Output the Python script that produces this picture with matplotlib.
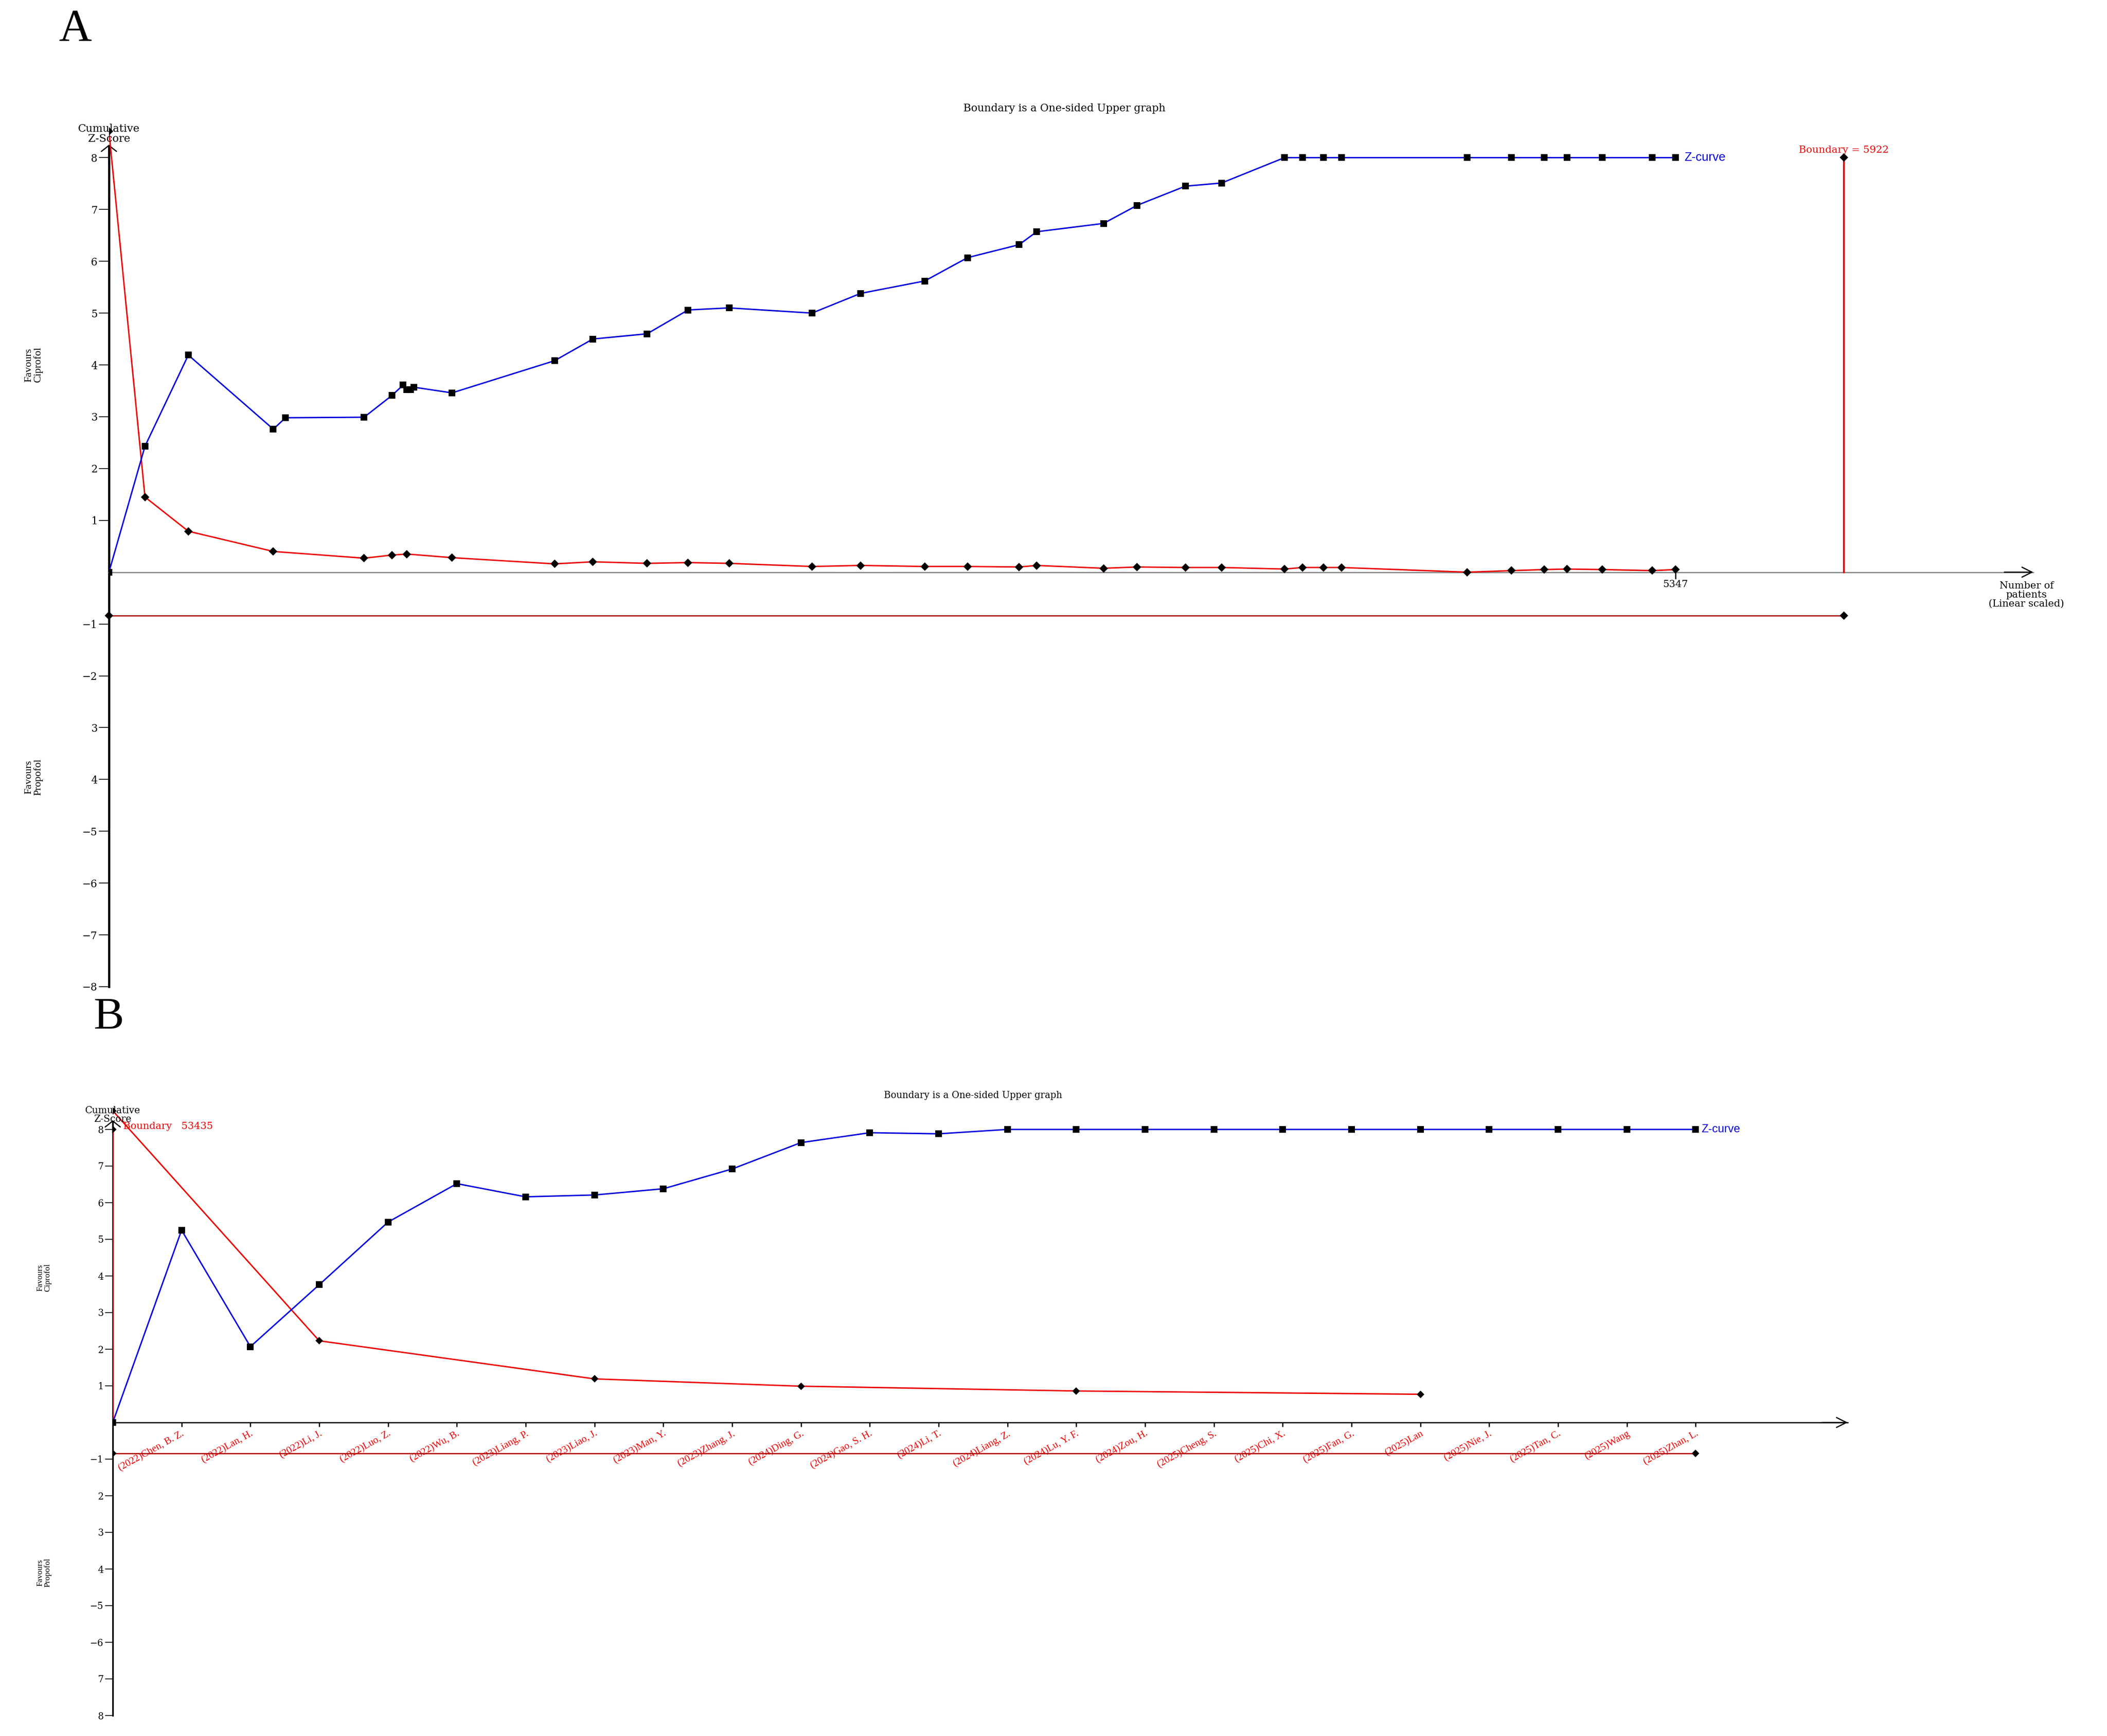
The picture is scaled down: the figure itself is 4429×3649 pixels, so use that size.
import matplotlib.pyplot as plt

W, H, DPI = 4429, 3649, 300

# ---------------- panel A: cumulative number of patients ----------------
a_z_n = [0, 123, 271, 561, 603, 871, 966, 1004, 1017, 1030, 1041, 1171,
         1521, 1652, 1837, 1977, 2117, 2400, 2566, 2785, 2931, 3107, 3167,
         3395, 3510, 3675, 3798, 4013, 4075, 4146, 4207, 4637, 4788, 4899,
         4978, 5098, 5268, 5347]
a_z = [0, 2.43, 4.19, 2.76, 2.98, 2.99, 3.41, 3.61, 3.52, 3.52, 3.57, 3.46,
       4.08, 4.50, 4.60, 5.06, 5.10, 5.00, 5.38, 5.62, 6.07, 6.32, 6.57,
       6.73, 7.08, 7.45, 7.51, 8, 8, 8, 8, 8, 8, 8,
       8, 8, 8, 8]
a_bound_n = [0, 123, 271, 561, 871, 966, 1017, 1171,
             1521, 1652, 1837, 1977, 2117, 2400, 2566, 2785, 2931, 3107, 3167,
             3395, 3510, 3675, 3798, 4013, 4075, 4146, 4207, 4637, 4788, 4899,
             4978, 5098, 5268, 5347]
a_bound = [8.51, 1.45, 0.79, 0.40, 0.27, 0.33, 0.35, 0.28,
           0.16, 0.20, 0.17, 0.185, 0.17, 0.11, 0.13, 0.11, 0.11, 0.10, 0.13,
           0.075, 0.10, 0.09, 0.09, 0.06, 0.09, 0.09, 0.09, 0.0, 0.03, 0.05,
           0.06, 0.05, 0.03, 0.05]
a_lower = -0.84
a_ris = 5922
a_total = 5347
a_xmax = 6569

# ---------------- panel B: per-study sequence ----------------
b_studies = ["(2022)Chen, B. Z.", "(2022)Lan, H.", "(2022)Li, J.", "(2022)Luo, Z.",
             "(2022)Wu, B.", "(2023)Liang, P.", "(2023)Liao, J.", "(2023)Man, Y.",
             "(2023)Zhang, J.", "(2024)Ding, G.", "(2024)Gao, S. H.", "(2024)Li, T.",
             "(2024)Liang, Z.", "(2024)Lu, Y. F.", "(2024)Zou, H.", "(2025)Cheng, S.",
             "(2025)Chi, X.", "(2025)Fan, G.", "(2025)Lan", "(2025)Nie, J.",
             "(2025)Tan, C.", "(2025)Wang", "(2025)Zhan, L."]
b_z = [0, 5.25, 2.07, 3.76, 5.47, 6.52, 6.16, 6.21, 6.38, 6.92, 7.64, 7.91,
       7.88, 8, 8, 8, 8, 8, 8, 8, 8, 8, 8, 8]
b_bound_idx = [0, 3, 7, 10, 14, 19]
b_bound = [8.51, 2.23, 1.19, 0.99, 0.86, 0.77]
b_lower = -0.84
b_xmax = 25.21

yticks = [8, 7, 6, 5, 4, 3, 2, 1, -1, -2, -3, -4, -5, -6, -7, -8]
a_ylabels = ["8", "7", "6", "5", "4", "3", "2", "1",
             "\u22121", "\u22122", "3", "4", "\u22125", "\u22126", "\u22127", "\u22128"]
b_ylabels = ["8", "7", "6", "5", "4", "3", "2", "1",
             "\u22121", "2", "3", "4", "\u22125", "\u22126", "7", "8"]

BLUE = '#0000e0'
RED = '#ee0000'
DARKRED = '#b00000'
SERIF = 'DejaVu Serif'


def px_axes(fig, left, top, right, bottom):
    return fig.add_axes([left / W, 1 - bottom / H, (right - left) / W, (bottom - top) / H])


def base_axes(ax, xmax, ylabels, fs, ylw, xcolor, tick_len):
    ax.set_xlim(0, xmax)
    ax.set_ylim(-8, 8.6)
    ax.patch.set_visible(False)
    ax.spines['top'].set_visible(False)
    ax.spines['right'].set_visible(False)
    ax.spines['left'].set_bounds(-8, 8.2)
    ax.spines['left'].set_linewidth(ylw)
    ax.spines['bottom'].set_position(('data', 0))
    ax.spines['bottom'].set_bounds(0, xmax)
    ax.spines['bottom'].set_color(xcolor)
    ax.spines['bottom'].set_linewidth(0.6)
    ax.set_yticks(yticks)
    ax.set_yticklabels(ylabels, fontsize=fs, family=SERIF)
    ax.tick_params(axis='y', length=tick_len, width=0.5, pad=0.8, color='#303030')
    # arrow heads
    ax.annotate('', xy=(0, 8.25), xytext=(0, 7.9), annotation_clip=False,
                arrowprops=dict(arrowstyle='->,head_length=0.3,head_width=0.38',
                                mutation_scale=10, lw=0.6, color='k',
                                shrinkA=0, shrinkB=0))
    ax.annotate('', xy=(xmax, 0), xytext=(xmax * 0.985, 0), annotation_clip=False,
                arrowprops=dict(arrowstyle='->,head_length=0.5,head_width=0.25',
                                mutation_scale=10, lw=0.6, color='k',
                                shrinkA=0, shrinkB=0))


fig = plt.figure(figsize=(W / DPI, H / DPI), dpi=DPI)
fig.patch.set_facecolor('white')

# ======================= A =======================
axA = px_axes(fig, 229, 266, 4274, 2074)
base_axes(axA, a_xmax, a_ylabels, 5.2, 1.1, '#808080', 5)
axA.set_xticks([a_total])
axA.set_xticklabels([str(a_total)], fontsize=5.0, family=SERIF)
axA.tick_params(axis='x', length=3.4, width=0.6, pad=0.5, color='k')

axA.plot(a_bound_n, a_bound, color=RED, lw=0.7, marker='D', ms=2.0,
         mfc='k', mec='k', zorder=3)
axA.plot(a_z_n, a_z, color=BLUE, lw=0.7, marker='s', ms=2.6,
         mfc='k', mec='k', zorder=4)
axA.plot([0, a_ris], [a_lower, a_lower], color=DARKRED, lw=0.6, marker='D',
         ms=2.0, mfc='k', mec='k', zorder=3, clip_on=False)
axA.plot([a_ris, a_ris], [0, 8], color=RED, lw=0.9, zorder=3)
axA.plot([a_ris], [8], ls='none', marker='D', ms=2.0, mfc='k', mec='k', zorder=4)

axA.text(3261, 8.95, 'Boundary is a One-sided Upper graph', ha='center', va='center',
         fontsize=5.3, family=SERIF)
axA.text(0, 8.46, 'Cumulative\nZ-Score', ha='center', va='center', fontsize=5.4,
         family=SERIF, linespacing=0.95)
axA.text(a_ris, 8.06, 'Boundary = %d' % a_ris, ha='center', va='bottom', fontsize=5.1,
         family=SERIF, color=RED)
axA.text(a_total + 30, 8, 'Z-curve', ha='left', va='center', fontsize=6.2,
         family='Liberation Sans', color=BLUE)
axA.text(6546, -0.18, 'Number of\npatients\n(Linear scaled)', ha='center', va='top',
         fontsize=5.0, family=SERIF, linespacing=1.0)
axA.text(-257, 4.0, 'Favours\nCiprofol', rotation=90, ha='center', va='center',
         fontsize=5.3, family='Liberation Serif', linespacing=1.0)
axA.text(-257, -3.95, 'Favours\nPropofol', rotation=90, ha='center', va='center',
         fontsize=5.3, family='Liberation Serif', linespacing=1.0)

# ======================= B =======================
axB = px_axes(fig, 237, 2990 - 8.6 * 77, 3884, 2990 + 8 * 77)
base_axes(axB, b_xmax, b_ylabels, 4.7, 0.8, 'k', 3.8)
b_idx = list(range(len(b_z)))
axB.set_xticks(b_idx[1:])
axB.set_xticklabels(b_studies, fontsize=5.1, family='Liberation Serif', color=RED,
                    rotation=29, ha='right', va='top', rotation_mode='anchor')
axB.tick_params(axis='x', length=2.2, width=0.6, pad=1.2, color='k')

axB.plot([0, 0], [0, 8], color=RED, lw=0.9, zorder=3)
axB.plot([0], [8], ls='none', marker='D', ms=1.8, mfc='k', mec='k', zorder=4)
axB.plot(b_bound_idx, b_bound, color=RED, lw=0.7, marker='D', ms=1.8,
         mfc='k', mec='k', zorder=3)
axB.plot(b_idx, b_z, color=BLUE, lw=0.7, marker='s', ms=2.3,
         mfc='k', mec='k', zorder=4)
axB.plot([0, b_idx[-1]], [b_lower, b_lower], color=DARKRED, lw=0.6, marker='D',
         ms=1.8, mfc='k', mec='k', zorder=3)

axB.text(12.5, 8.93, 'Boundary is a One-sided Upper graph', ha='center', va='center',
         fontsize=4.7, family=SERIF)
axB.text(0, 8.4, 'Cumulative\nZ-Score', ha='center', va='center', fontsize=4.8,
         family=SERIF, linespacing=0.95)
axB.text(0.15, 8.08, 'Boundary   53435', ha='left', va='center', fontsize=5.0,
         family=SERIF, color=RED)
axB.text(b_idx[-1] + 0.08, 8, 'Z-curve', ha='left', va='center', fontsize=5.8,
         family='Liberation Sans', color=BLUE)
axB.text(-1.0, 3.95, 'Favours\nCiprofol', rotation=90, ha='center', va='center',
         fontsize=4.2, family='Liberation Serif', linespacing=1.0)
axB.text(-1.0, -4.1, 'Favours\nPropofol', rotation=90, ha='center', va='center',
         fontsize=4.2, family='Liberation Serif', linespacing=1.0)

# panel letters
fig.text(158 / W, 1 - 86 / H, 'A', ha='center', va='baseline', fontsize=23,
         family='Liberation Serif')
fig.text(228 / W, 1 - 2163 / H, 'B', ha='center', va='baseline', fontsize=23,
         family='Liberation Serif')

fig.savefig('out.png', dpi=DPI, facecolor='white')
